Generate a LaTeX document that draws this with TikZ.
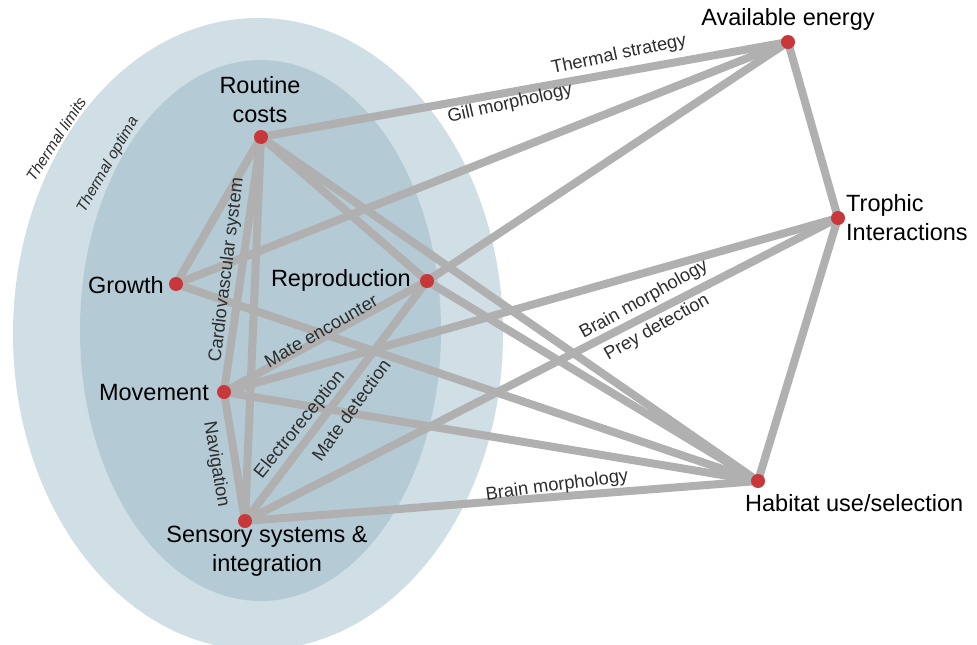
\documentclass[tikz,border=0pt]{standalone}
\usepackage{fontspec}
\setmainfont{Liberation Sans}
\pgfdeclarelayer{shade}
\pgfdeclarelayer{links}
\pgfsetlayers{shade,links,main}
\definecolor{outerc}{RGB}{208,222,229}
\definecolor{innerc}{RGB}{180,203,213}
\definecolor{linkgray}{RGB}{176,176,176}
\definecolor{dotred}{RGB}{200,55,58}
\definecolor{textgray}{RGB}{45,45,45}
\begin{document}
\begin{tikzpicture}[x=1pt,y=-1pt,
  dot/.style={circle,fill=dotred,inner sep=0pt,minimum size=14pt},
  link/.style={line width=8pt,draw=linkgray},
  biglbl/.style={font=\fontsize{23.5}{29}\selectfont,text=black,inner sep=0pt,align=center},
  smalllbl/.style={font=\fontsize{18.3}{20}\selectfont,text=textgray,inner sep=0pt},
  thermlbl/.style={font=\fontsize{15.5}{18}\selectfont\itshape,text=textgray,inner sep=0pt}]
\useasboundingbox (0,0) rectangle (977,645);

% dots
\node[dot] (rc) at (261,137) {};
\node[dot] (gr) at (176,284) {};
\node[dot] (re) at (427,281) {};
\node[dot] (mv) at (224,392) {};
\node[dot] (se) at (245,521) {};
\node[dot] (ae) at (788,42) {};
\node[dot] (tr) at (838,218) {};
\node[dot] (hb) at (758,481) {};

% thermal zones
\begin{pgfonlayer}{shade}
  \begin{scope}
    \clip (0,0) rectangle (977,645);
    \fill[outerc] (258,334) ellipse [x radius=245pt, y radius=316pt];
    \fill[innerc] (260.5,330.5) ellipse [x radius=180.5pt, y radius=270.5pt];
  \end{scope}
\end{pgfonlayer}

% connectors
\begin{pgfonlayer}{links}
  \foreach \a/\b in {rc/ae, gr/ae, re/ae, ae/tr, tr/hb,
                     rc/gr, rc/mv, rc/se, rc/re, rc/hb,
                     gr/hb, re/mv, re/se, re/hb,
                     mv/tr, mv/hb, mv/se, se/tr, se/hb}
    \draw[link] (\a.center) -- (\b.center);
\end{pgfonlayer}

% main labels
\node[biglbl] (rcl) at (260,100) {Routine\\costs};
\node[biglbl,anchor=east] (grl) at (164,285) {Growth};
\node[biglbl,anchor=east] (rel) at (411,280) {Reproduction};
\node[biglbl,anchor=east] (mvl) at (209,393) {Movement};
\node[biglbl] (sel) at (267,551) {Sensory systems \&\\integration};
\node[biglbl] (ael) at (788,19) {Available energy};
\node[biglbl,anchor=west,align=left] (trl) at (846,218) {Trophic\\Interactions};
\node[biglbl,anchor=west] (hbl) at (745,503) {Habitat use/selection};

% zone labels
\node[thermlbl,rotate=57] (tlim) at (56,139) {Thermal limits};
\node[thermlbl,rotate=60] (topt) at (108,165) {Thermal optima};

% connector labels
\node[smalllbl,rotate=12] (lts) at (619,55) {Thermal strategy};
\node[smalllbl,rotate=12.6] (lgm) at (510,104) {Gill morphology};
\node[smalllbl,rotate=83] (lcv) at (227,270) {Cardiovascular system};
\node[smalllbl,rotate=30] (lme) at (321,331) {Mate encounter};
\node[smalllbl,rotate=-80.5] (lnav) at (216,464) {Navigation};
\node[smalllbl,rotate=51] (lel) at (300,425) {Electroreception};
\node[smalllbl,rotate=54] (lmd) at (351,410) {Mate detection};
\node[smalllbl,rotate=29] (lbm1) at (644,300) {Brain morphology};
\node[smalllbl,rotate=29.5] (lpd) at (657,328) {Prey detection};
\node[smalllbl,rotate=7.5] (lbm2) at (557,486) {Brain morphology};
\end{tikzpicture}
\end{document}
